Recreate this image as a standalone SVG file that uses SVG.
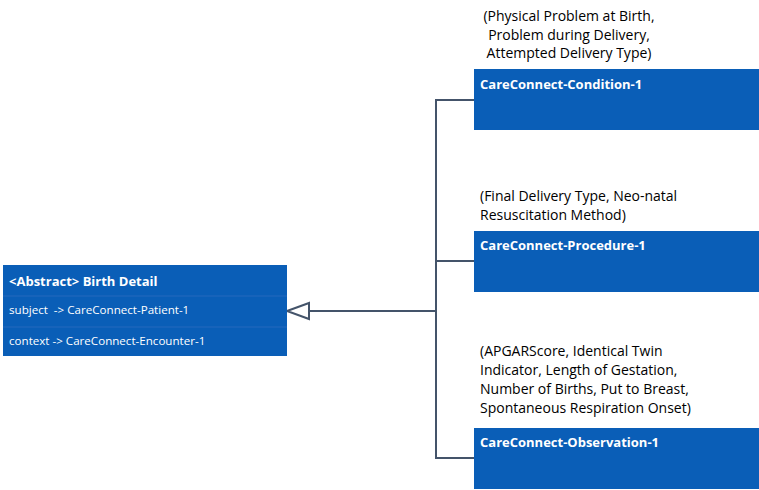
<svg xmlns="http://www.w3.org/2000/svg" width="759" height="490" viewBox="0 0 759 490">
<style>
.box{fill:#0A5EB7}
.sep{stroke:#2468BD;stroke-width:1}
.ttl{font-family:"Open Sans","Liberation Sans",sans-serif;font-size:13px;font-weight:bold;fill:#FFFFFF}
.attr{font-family:"Open Sans","Liberation Sans",sans-serif;font-size:11.6px;fill:#FFFFFF}
.note{font-family:"Open Sans","Liberation Sans",sans-serif;font-size:14px;fill:#000000}
.conn{fill:none;stroke:#44546A;stroke-width:2}
</style>
<rect width="759" height="490" fill="#FFFFFF"/>
<g id="connectors">
<polyline class="conn" points="474,100 436,100 436,458 474,458"/>
<line class="conn" x1="436" y1="261" x2="474" y2="261"/>
<line class="conn" x1="436" y1="311" x2="309" y2="311"/>
<polygon class="conn" points="287,311 309,303 309,319" fill="#FFFFFF"/>
</g>
<g id="birth-detail">
<rect class="box" x="3" y="265" width="284" height="91"/>
<line class="sep" x1="3" y1="296" x2="287" y2="296"/>
<line class="sep" x1="3" y1="327" x2="287" y2="327"/>
<text class="ttl" x="9" y="286">&lt;Abstract&gt; Birth Detail</text>
<text class="attr" x="9" y="314" xml:space="preserve">subject  -&gt; CareConnect-Patient-1</text>
<text class="attr" x="9" y="345">context -&gt; CareConnect-Encounter-1</text>
</g>
<g id="condition">
<rect class="box" x="474" y="69" width="285" height="61"/>
<text class="ttl" x="480" y="89">CareConnect-Condition-1</text>
<text class="note" x="569" y="21" text-anchor="middle">(Physical Problem at Birth,</text>
<text class="note" x="569" y="40" text-anchor="middle">Problem during Delivery,</text>
<text class="note" x="569" y="58" text-anchor="middle">Attempted Delivery Type)</text>
</g>
<g id="procedure">
<rect class="box" x="474" y="231" width="285" height="61"/>
<text class="ttl" x="480" y="250">CareConnect-Procedure-1</text>
<text class="note" x="480" y="201">(Final Delivery Type, Neo-natal</text>
<text class="note" x="480" y="220">Resuscitation Method)</text>
</g>
<g id="observation">
<rect class="box" x="474" y="428" width="285" height="61"/>
<text class="ttl" x="480" y="447">CareConnect-Observation-1</text>
<text class="note" x="480" y="356">(APGARScore, Identical Twin</text>
<text class="note" x="480" y="375">Indicator, Length of Gestation,</text>
<text class="note" x="480" y="394">Number of Births, Put to Breast,</text>
<text class="note" x="480" y="413">Spontaneous Respiration Onset)</text>
</g>
</svg>
